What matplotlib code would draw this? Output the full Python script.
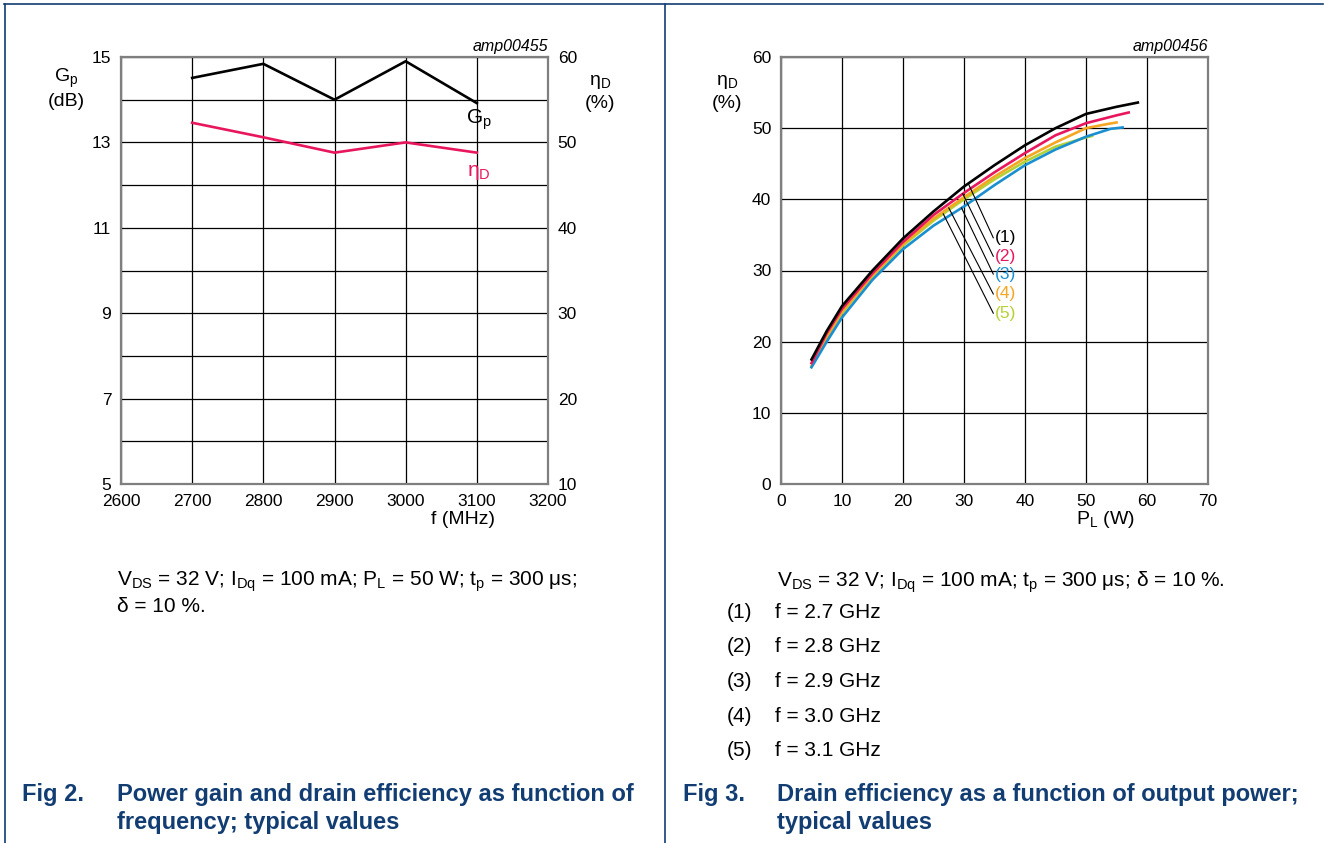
import matplotlib
matplotlib.use("Agg")
import matplotlib.pyplot as plt
import numpy as np

plt.rcParams['font.family'] = ['Liberation Sans', 'DejaVu Sans']
plt.rcParams['mathtext.fontset'] = 'custom'
plt.rcParams['mathtext.rm'] = 'Liberation Sans'
plt.rcParams['mathtext.it'] = 'Liberation Sans:italic'
plt.rcParams['mathtext.bf'] = 'Liberation Sans:bold'

# Fig 2 data: gain and efficiency vs frequency
freq = [2700, 2800, 2900, 3000, 3100]
gain = [14.51, 14.84, 14.0, 14.9, 13.92]
eff_f = [52.3, 50.6, 48.8, 50.0, 48.8]

# Fig 3 data: drain efficiency vs output power
pl_1 = [5, 7.5, 10, 15, 20, 25, 30, 35, 40, 45, 50, 55, 58.5]
eta_1 = [17.5, 21.5, 25.0, 30.0, 34.5, 38.3, 41.8, 44.8, 47.6, 50.0, 52.0, 53.0, 53.6]
pl_2 = [5, 7.5, 10, 15, 20, 25, 30, 35, 40, 45, 50, 55, 57]
eta_2 = [17.0, 21.2, 24.6, 29.6, 34.0, 37.8, 40.9, 43.8, 46.5, 49.0, 50.7, 51.8, 52.2]
pl_3 = [5, 7.5, 10, 15, 20, 25, 30, 35, 40, 45, 50, 54, 56]
eta_3 = [16.4, 20.0, 23.4, 28.7, 33.0, 36.3, 39.0, 42.0, 44.8, 47.0, 48.8, 49.9, 50.1]
pl_4 = [5, 7.5, 10, 15, 20, 25, 30, 35, 40, 45, 50, 53, 55]
eta_4 = [16.6, 20.7, 24.2, 29.3, 33.7, 37.3, 40.3, 43.2, 45.8, 48.0, 50.0, 50.5, 50.8]
pl_5 = [5, 7.5, 10, 15, 20, 25, 30, 35, 40, 45, 50, 51]
eta_5 = [16.5, 20.6, 24.0, 29.2, 33.5, 37.0, 40.0, 42.8, 45.3, 47.4, 48.7, 48.9]

labels = ['(1)', '(2)', '(3)', '(4)', '(5)']
freq_labels = ['f = 2.7 GHz', 'f = 2.8 GHz', 'f = 2.9 GHz', 'f = 3.0 GHz', 'f = 3.1 GHz']
colors = ['#000000', '#e8175d', '#1a8fd0', '#f5a623', '#b3d235']
# where each leader line touches its curve, and where its label sits
lead_at = [30.7, 29.8, 29.6, 27.5, 26.6]
lab_y = [34.6, 32.0, 29.5, 26.7, 24.0]

navy = '#123d73'
spine_grey = '#7f7f7f'

fig = plt.figure(figsize=(13.24, 8.43), dpi=100)
W, H = 1324, 843


def box(x0, y0, x1, y1):
    return [x0 / W, 1 - y1 / H, (x1 - x0) / W, (y1 - y0) / H]


def style_ax(a):
    for s in a.spines.values():
        s.set_color(spine_grey)
        s.set_linewidth(1.6)
    a.tick_params(length=0, labelsize=12.5, pad=7)
    a.grid(True, color='black', linewidth=0.9)
    a.set_axisbelow(True)


# ---- left chart ----
ax1 = fig.add_axes(box(121, 57, 548, 484))
style_ax(ax1)
ax1.set_xlim(2600, 3200)
ax1.set_ylim(5, 15)
ax1.set_xticks(np.arange(2600, 3201, 100))
ax1.set_yticks(np.arange(5, 16, 1))
ax1.set_yticklabels([str(v) if v % 2 == 1 else '' for v in range(5, 16)])
ax1.plot(freq, gain, color='black', linewidth=1.9, zorder=3)

ax1b = ax1.twinx()
ax1b.set_ylim(10, 60)
ax1b.set_yticks(np.arange(10, 61, 10))
ax1b.tick_params(length=0, labelsize=12.5, pad=7)
for s in ax1b.spines.values():
    s.set_visible(False)
ax1b.plot(freq, eff_f, color=colors[1], linewidth=1.9, zorder=3)

fig.text(479 / W, 1 - 120 / H, r'G$_\mathrm{p}$', fontsize=15, ha='center', va='center')
fig.text(479 / W, 1 - 172 / H, r'η$_\mathrm{D}$', fontsize=15, ha='center', va='center', color=colors[1])
fig.text(548 / W, 1 - 47 / H, 'amp00455', fontsize=11.5, style='italic', ha='right', va='center')
fig.text(66 / W, 1 - 78 / H, r'G$_\mathrm{p}$', fontsize=14, ha='center', va='center')
fig.text(66 / W, 1 - 101 / H, '(dB)', fontsize=14, ha='center', va='center')
fig.text(600 / W, 1 - 82 / H, r'η$_\mathrm{D}$', fontsize=14, ha='center', va='center')
fig.text(600 / W, 1 - 104 / H, '(%)', fontsize=14, ha='center', va='center')
fig.text(463 / W, 1 - 520 / H, 'f (MHz)', fontsize=14, ha='center', va='center')

# ---- right chart ----
ax2 = fig.add_axes(box(781, 57, 1208, 484))
style_ax(ax2)
ax2.set_xlim(0, 70)
ax2.set_ylim(0, 60)
ax2.set_xticks(np.arange(0, 71, 10))
ax2.set_yticks(np.arange(0, 61, 10))

series = [(pl_1, eta_1), (pl_2, eta_2), (pl_3, eta_3), (pl_4, eta_4), (pl_5, eta_5)]
for (px, py), c in zip(series[::-1], colors[::-1]):
    ax2.plot(px, py, color=c, linewidth=1.9, zorder=3)

for (px, py), lab, c, xa, ly in zip(series, labels, colors, lead_at, lab_y):
    ya = np.interp(xa, px, py)
    ax2.plot([xa, 34.8], [ya, ly], color='black', linewidth=0.8, zorder=4)
    ax2.text(35.0, ly, lab, fontsize=12.5, color=c, ha='left', va='center', zorder=5)

fig.text(1208 / W, 1 - 47 / H, 'amp00456', fontsize=11.5, style='italic', ha='right', va='center')
fig.text(727 / W, 1 - 82 / H, r'η$_\mathrm{D}$', fontsize=14, ha='center', va='center')
fig.text(727 / W, 1 - 104 / H, '(%)', fontsize=14, ha='center', va='center')
fig.text(1105 / W, 1 - 520 / H, r'P$_\mathrm{L}$ (W)', fontsize=14, ha='center', va='center')

# ---- notes under the charts ----
note = dict(fontsize=15, ha='left', va='center')
fig.text(117 / W, 1 - 582 / H,
         r'V$_\mathrm{DS}$ = 32 V; I$_\mathrm{Dq}$ = 100 mA; P$_\mathrm{L}$ = 50 W; t$_\mathrm{p}$ = 300 μs;',
         **note)
fig.text(117 / W, 1 - 607 / H, 'δ = 10 %.', **note)

fig.text(777 / W, 1 - 582 / H,
         r'V$_\mathrm{DS}$ = 32 V; I$_\mathrm{Dq}$ = 100 mA; t$_\mathrm{p}$ = 300 μs; δ = 10 %.',
         **note)
for i, (lab, fl) in enumerate(zip(labels, freq_labels)):
    yy = 612 + i * 34.7
    fig.text(727 / W, 1 - yy / H, lab, **note)
    fig.text(775 / W, 1 - yy / H, fl, **note)

# ---- figure captions ----
cap = dict(fontsize=17, fontweight='bold', color=navy, ha='left', va='center')
fig.text(22 / W, 1 - 794 / H, 'Fig 2.', **cap)
fig.text(117 / W, 1 - 794 / H, 'Power gain and drain efficiency as function of', **cap)
fig.text(117 / W, 1 - 822 / H, 'frequency; typical values', **cap)
fig.text(683 / W, 1 - 794 / H, 'Fig 3.', **cap)
fig.text(777 / W, 1 - 794 / H, 'Drain efficiency as a function of output power;', **cap)
fig.text(777 / W, 1 - 822 / H, 'typical values', **cap)

# ---- page frame lines ----
frame = fig.add_axes([0, 0, 1, 1], facecolor='none')
frame.set_xlim(0, W)
frame.set_ylim(H, 0)
frame.axis('off')
frame.plot([4, 1323], [3.5, 3.5], color=navy, linewidth=1.2)
frame.plot([4.5, 4.5], [3.5, H], color=navy, linewidth=1.2)
frame.plot([664.5, 664.5], [3.5, H], color=navy, linewidth=1.2)

fig.savefig('out.png', dpi=100)
